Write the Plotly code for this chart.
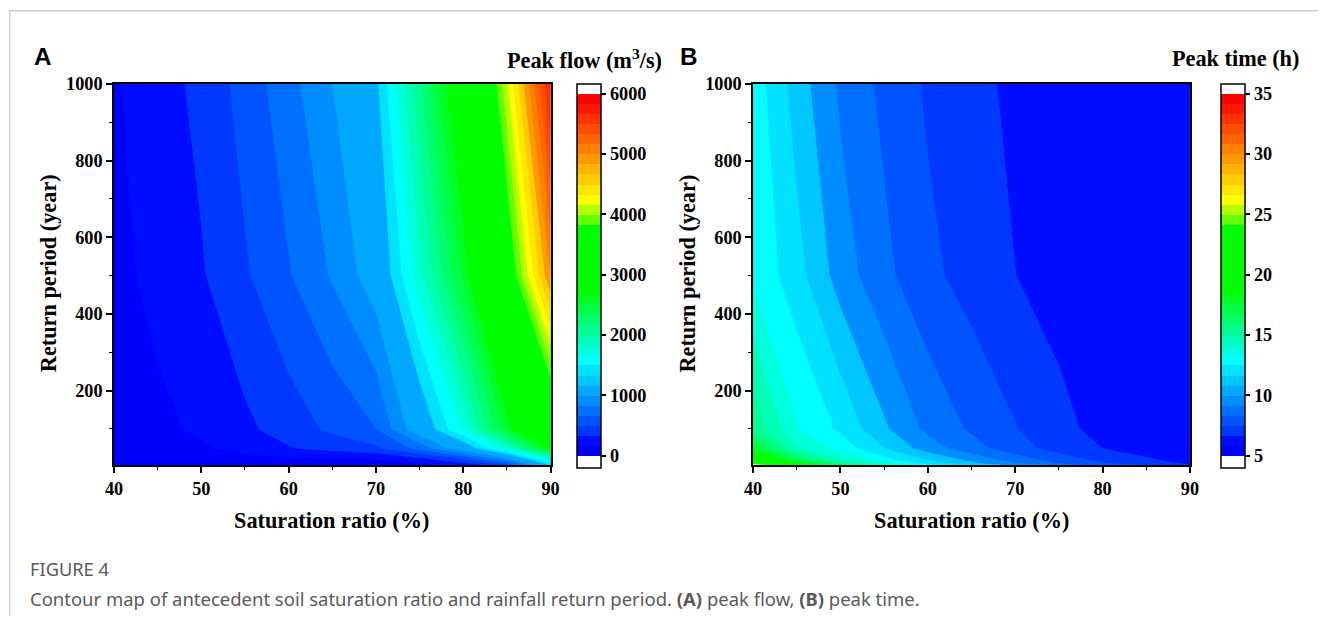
import plotly.graph_objects as go

# Layout positions are given in target-image pixels. The page body keeps its
# default 8 px margin and the page is shown about 1.3 % smaller, so every
# position and pixel size is converted through K and the margin.
K = 1.01276
OX, OY = 8, 8
FW, FH = 1327, 616


def X(px):
    return (px * K - OX) / FW


def Y(py):
    return 1 - (py * K - OY) / FH


def P(n):
    return n * K


# Antecedent soil saturation ratio (%) and rainfall return period (year)
saturation = [40, 45, 50, 55, 60, 65, 70, 75, 80, 85, 90]
return_period = [5, 10, 20, 50, 100, 500, 1000]

# Peak flow (m3/s): one row per return period, one column per saturation ratio
flow_T5    = [20, 28, 36, 45, 55, 65, 80, 110, 200, 450, 1300]
flow_T10   = [30, 40, 55, 70, 85, 100, 120, 170, 300, 600, 1500]
flow_T20   = [40, 60, 80, 100, 120, 140, 160, 260, 480, 900, 1700]
flow_T50   = [60, 110, 140, 231, 322, 398, 472, 730, 1158, 1791, 2750]
flow_T100  = [80, 130, 195, 298, 413, 536, 665, 1140, 1691, 2561, 3500]
flow_T500  = [115, 216, 317, 479, 653, 853, 1106, 1776, 2540, 3730, 5000]
flow_T1000 = [150, 256, 381, 567, 773, 1000, 1292, 2130, 3017, 4300, 5700]

# Peak time (h)
time_T5    = [28.8, 20.8, 17.3, 14.8, 13.1, 11.8, 10.7, 9.8, 9.0, 8.3, 7.7]
time_T10   = [24.8, 18.8, 15.8, 13.8, 12.3, 11.1, 10.1, 9.2, 8.5, 7.9, 7.4]
time_T20   = [21.8, 16.8, 14.3, 12.8, 11.6, 10.6, 9.6, 8.8, 8.1, 7.6, 7.2]
time_T50   = [17.8, 14.3, 13.0, 11.7, 10.4, 9.5, 8.7, 8.0, 7.5, 7.2, 6.9]
time_T100  = [15.6, 13.4, 12.34, 10.97, 9.8, 9.04, 8.38, 7.71, 7.28, 6.97, 6.65]
time_T500  = [13.2, 12.0, 10.45, 9.39, 8.55, 7.99, 7.51, 7.21, 6.91, 6.61, 6.28]
time_T1000 = [13.0, 11.28, 9.85, 8.95, 8.21, 7.73, 7.34, 7.05, 6.75, 6.45, 6.18]

peak_flow = [flow_T5, flow_T10, flow_T20, flow_T50, flow_T100, flow_T500, flow_T1000]
peak_time = [time_T5, time_T10, time_T20, time_T50, time_T100, time_T500, time_T1000]

flow_ticks = [0, 1000, 2000, 3000, 4000, 5000, 6000]
time_ticks = [5, 10, 15, 20, 25, 30, 35]

# 36 colour bands between the lowest and highest contour level
N_BANDS = 36
BLUE_G = [0, 12, 56, 84, 112, 141, 169, 198, 226, 255]


def band_colors():
    cols = []
    for k in range(N_BANDS):
        if k <= 9:
            c = (0, BLUE_G[k], 255)
        elif k <= 15:
            c = (0, 255, round(255 * (1 - (k - 9) / 7)))
        elif k <= 22:
            c = (0, 255, 0)
        elif k == 23:
            c = (100, 255, 0)
        elif k == 24:
            c = (180, 255, 0)
        else:
            c = (255, round(255 * (1 - (k - 25) / 10)), 0)
        cols.append('rgb(%d,%d,%d)' % c)
    return cols


def contour_scale(cols):
    # plotly maps contour fills over N_BANDS + 1 steps; white beyond both ends
    n = len(cols) + 1
    scale = [[0.0, 'white'], [1.0 / n, 'white']]
    for i, c in enumerate(cols):
        lo = (i + 1) / n
        hi = (i + 2) / n if i < len(cols) - 1 else (i + 1.9) / n
        scale += [[lo, c], [hi, c]]
    scale += [[(len(cols) + 0.9) / n, 'white'], [1.0, 'white']]
    return scale


def bar_scale(cols, start, step, lo, hi):
    # linear colour bar: white below start and above the last level
    f = lambda v: min(max((v - lo) / (hi - lo), 0.0), 1.0)
    scale = [[0.0, 'white'], [f(start), 'white']]
    for i, c in enumerate(cols):
        scale += [[f(start + i * step), c], [f(start + (i + 1) * step), c]]
    scale += [[f(start + len(cols) * step), 'white'], [1.0, 'white']]
    return scale


COLS = band_colors()

SERIF = 'Liberation Serif'
tick_font = dict(family=SERIF, size=P(18), color='black', weight='bold')

BAR_TOP, BAR_BOT = 82, 467


def colorbar(x_px, ticks):
    return dict(
        x=X(x_px), xanchor='left', xref='paper',
        y=Y((BAR_TOP + BAR_BOT) / 2), yanchor='middle', yref='paper',
        len=P(BAR_BOT - BAR_TOP) / FH, lenmode='fraction',
        thickness=P(24), thicknessmode='pixels',
        outlinecolor='black', outlinewidth=1.5,
        tickvals=ticks, ticks='outside', ticklen=P(5), tickwidth=1.5,
        tickcolor='black', tickfont=tick_font, xpad=0, ypad=0,
    )


flow_step = 6000 / N_BANDS
time_step = 30 / N_BANDS

fig = go.Figure()
fig.add_trace(go.Contour(
    x=saturation, y=return_period, z=peak_flow,
    xaxis='x', yaxis='y', autocontour=False, showscale=False,
    contours=dict(start=0, end=6000, size=flow_step, coloring='fill', showlines=False),
    line=dict(width=0, smoothing=0), colorscale=contour_scale(COLS),
))
fig.add_trace(go.Contour(
    x=saturation, y=return_period, z=peak_time,
    xaxis='x2', yaxis='y2', autocontour=False, showscale=False,
    contours=dict(start=5, end=35, size=time_step, coloring='fill', showlines=False),
    line=dict(width=0, smoothing=0), colorscale=contour_scale(COLS),
))

# colour bars for the two contour maps
for (ax, ay, start, step, bx, ticks) in (('x', 'y', 0, flow_step, 576, flow_ticks),
                                         ('x2', 'y2', 5, time_step, 1221, time_ticks)):
    lo = start - 1.2 * step
    hi = start + (N_BANDS + 1) * step
    fig.add_trace(go.Scatter(
        x=[None], y=[None], mode='markers', xaxis=ax, yaxis=ay, hoverinfo='skip',
        marker=dict(color=[start], cmin=lo, cmax=hi, showscale=True,
                    colorscale=bar_scale(COLS, start, step, lo, hi),
                    colorbar=colorbar(bx, ticks)),
    ))

top_px, bot_px = 82, 465
ydom = [Y(bot_px), Y(top_px)]
axis_x = dict(range=[40, 90], dtick=10, tick0=40, showline=True, linecolor='black',
              linewidth=1.5, mirror=True, ticks='outside', ticklen=P(6), tickwidth=1.5,
              tickcolor='black', showgrid=False, zeroline=False, tickfont=tick_font,
              minor=dict(ticks='outside', ticklen=P(3), tickwidth=1.2, tickcolor='black', dtick=5))
axis_y = dict(range=[5, 1000], dtick=200, tick0=0, showline=True, linecolor='black',
              linewidth=1.5, mirror=True, ticks='outside', ticklen=P(6), tickwidth=1.5,
              tickcolor='black', showgrid=False, zeroline=False, tickfont=tick_font,
              minor=dict(ticks='outside', ticklen=P(3), tickwidth=1.2, tickcolor='black', dtick=100))

fig.update_layout(
    width=FW, height=FH, margin=dict(l=0, r=0, t=0, b=0),
    paper_bgcolor='white', plot_bgcolor='white', showlegend=False,
    xaxis=dict(axis_x, domain=[X(113), X(550)], anchor='y'),
    yaxis=dict(axis_y, domain=ydom, anchor='x'),
    xaxis2=dict(axis_x, domain=[X(752.7), X(1190)], anchor='y2'),
    yaxis2=dict(axis_y, domain=ydom, anchor='x2'),
)


def label(text, x, y, font, xanchor='center', angle=0):
    return dict(text=text, x=X(x), y=Y(y), xref='paper', yref='paper', xanchor=xanchor,
                yanchor='middle', showarrow=False, textangle=angle, font=font)


title_font = dict(family=SERIF, size=P(22), color='black', weight='bold')
panel_font = dict(family='Liberation Sans', size=P(24), color='black', weight='bold')
fig_font = dict(family='Noto Sans', size=P(18), color='#5a5a5a')
cap_font = dict(family='Noto Sans', size=P(18.25), color='#5a5a5a')
ann = [
    label('Saturation ratio (%)', 331, 520, title_font),
    label('Saturation ratio (%)', 971, 520, title_font),
    label('Return period (year)', 47, 272, title_font, angle=-90),
    label('Return period (year)', 687, 272, title_font, angle=-90),
    label('Peak flow (m<sup>3</sup>/s)', 664, 57, title_font, xanchor='right'),
    label('Peak time (h)', 1301, 57, title_font, xanchor='right'),
    label('A', 31, 55, panel_font, xanchor='left'),
    label('B', 678, 55, panel_font, xanchor='left'),
    label('FIGURE 4', 27, 569, fig_font, xanchor='left'),
    label('Contour map of antecedent soil saturation ratio and rainfall return period. '
          '<b>(A)</b> peak flow, <b>(B)</b> peak time.', 27, 599, cap_font, xanchor='left'),
]
fig.update_layout(annotations=ann)

# thin frame along the top and left edges
fig.add_shape(type='line', xref='paper', yref='paper', x0=0, x1=1, y0=1 - 0.75 / FH, y1=1 - 0.75 / FH,
              line=dict(color='#d0d0d0', width=1.5))
fig.add_shape(type='line', xref='paper', yref='paper', x0=0.75 / FW, x1=0.75 / FW, y0=0, y1=1,
              line=dict(color='#d0d0d0', width=1.5))

fig.write_html('out.html')
